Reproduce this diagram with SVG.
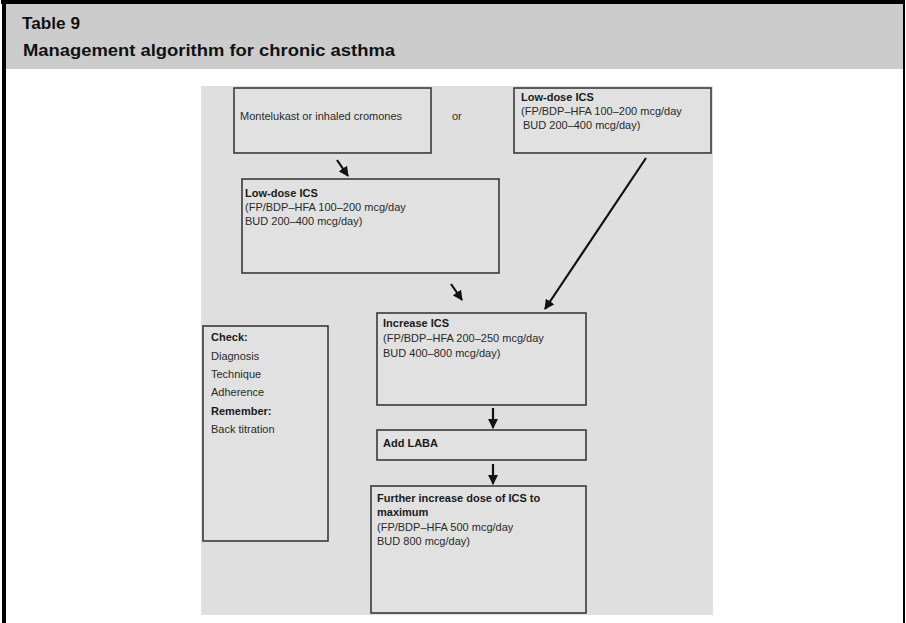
<svg xmlns="http://www.w3.org/2000/svg" width="906" height="623" viewBox="0 0 906 623">
<defs>
<style>
.hdr{font-family:"Liberation Sans",Arial,sans-serif;font-weight:bold;font-size:17px;fill:#111}
.t{font-family:"Liberation Sans",Arial,sans-serif;font-size:11px;fill:#2a2a2a}
.b{font-weight:bold;fill:#1a1a1a}
.box{fill:#e1e1e1;stroke:#3a3a3a;stroke-width:1.6}
.arr{stroke:#111;stroke-width:2.2;fill:none;marker-end:url(#ah)}
</style>
<marker id="ah" viewBox="0 0 10 10" refX="9" refY="5" markerWidth="4.6" markerHeight="4.6" orient="auto" markerUnits="strokeWidth">
<path d="M0,0 L10,5 L0,10 Z" fill="#111"/>
</marker>
</defs>
<rect x="0" y="0" width="906" height="623" fill="#ffffff"/>
<rect x="5" y="4" width="898" height="65" fill="#cccccc"/>
<rect x="1" y="0" width="904" height="4" fill="#000"/>
<rect x="2" y="0" width="4" height="623" fill="#000"/>
<rect x="903" y="0" width="2" height="623" fill="#000"/>
<text class="hdr" x="22" y="29" textLength="58" lengthAdjust="spacingAndGlyphs">Table 9</text>
<text class="hdr" x="23" y="56" textLength="372" lengthAdjust="spacingAndGlyphs">Management algorithm for chronic asthma</text>
<rect x="201" y="86" width="512" height="529" fill="#dfdfdf"/>
<g id="n-montelukast">
<rect class="box" x="234" y="88" width="197" height="65"/>
<text class="t" x="240" y="120">Montelukast or inhaled cromones</text>
</g>
<g id="n-or">
<text class="t" x="452" y="120">or</text>
</g>
<g id="n-lowdose-right">
<rect class="box" x="514" y="88" width="197" height="65"/>
<text class="t b" x="521" y="101">Low-dose ICS</text>
<text class="t" x="521" y="115"> (FP/BDP–HFA 100–200 mcg/day</text>
<text class="t" x="523" y="129">BUD 200–400 mcg/day)</text>
</g>
<g id="n-lowdose">
<rect class="box" x="242" y="179" width="257" height="94"/>
<text class="t b" x="245" y="197">Low-dose ICS</text>
<text class="t" x="245" y="211">(FP/BDP–HFA 100–200 mcg/day</text>
<text class="t" x="245" y="225">BUD 200–400 mcg/day)</text>
</g>
<g id="n-check">
<rect class="box" x="203" y="326" width="125" height="215"/>
<text class="t b" x="211" y="341">Check:</text>
<text class="t" x="211" y="360">Diagnosis</text>
<text class="t" x="211" y="378">Technique</text>
<text class="t" x="211" y="396">Adherence</text>
<text class="t b" x="211" y="415">Remember:</text>
<text class="t" x="211" y="433">Back titration</text>
</g>
<g id="n-increase">
<rect class="box" x="377" y="313" width="209" height="92"/>
<text class="t b" x="383" y="327">Increase ICS</text>
<text class="t" x="383" y="342">(FP/BDP–HFA 200–250 mcg/day</text>
<text class="t" x="383" y="357">BUD 400–800 mcg/day)</text>
</g>
<g id="n-laba">
<rect class="box" x="377" y="430" width="209" height="30"/>
<text class="t b" x="383" y="447">Add LABA</text>
</g>
<g id="n-further">
<rect class="box" x="371" y="486" width="215" height="127"/>
<text class="t b" x="377" y="502">Further increase dose of ICS to</text>
<text class="t b" x="377" y="516">maximum</text>
<text class="t" x="377" y="531">(FP/BDP–HFA 500 mcg/day</text>
<text class="t" x="377" y="545">BUD 800 mcg/day)</text>
</g>
<g id="connectors">
<line class="arr" x1="337" y1="160" x2="348" y2="176"/>
<line class="arr" x1="451" y1="284" x2="462" y2="300"/>
<line class="arr" x1="646" y1="158" x2="545" y2="309"/>
<line class="arr" x1="493" y1="408" x2="493" y2="428"/>
<line class="arr" x1="493" y1="464" x2="493" y2="484"/>
</g>
</svg>
